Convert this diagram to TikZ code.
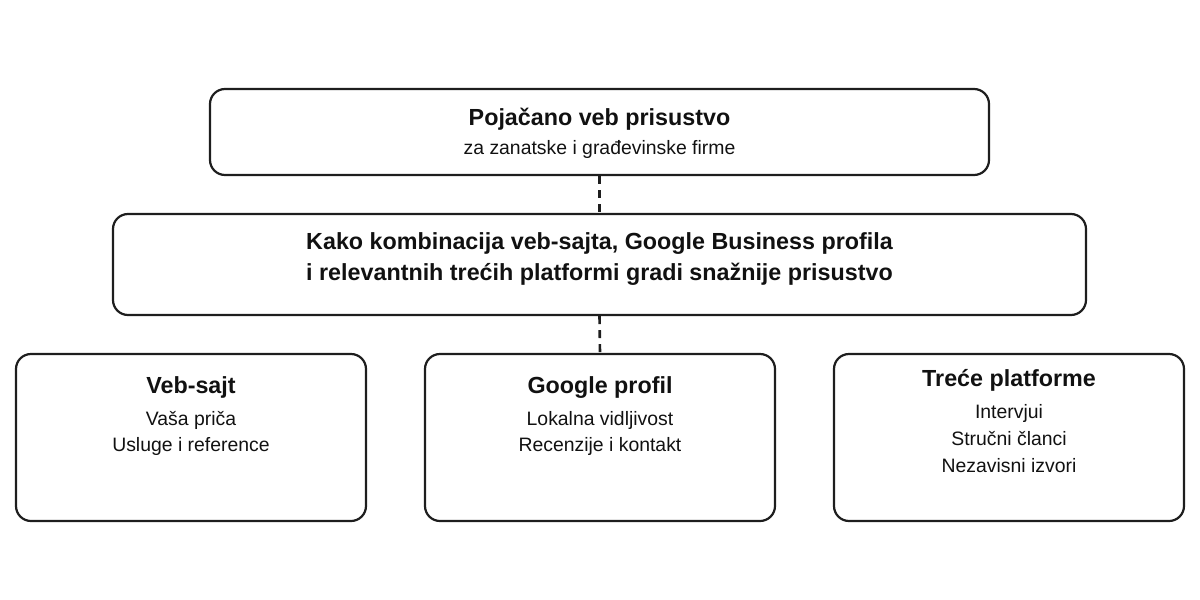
\documentclass[tikz,border=0pt]{standalone}
\usepackage{fontspec}
\setmainfont{Liberation Sans}
\usepackage{xcolor}
\usepackage{tikz}
\usetikzlibrary{positioning}

\definecolor{inkline}{HTML}{1E1E1E}
\definecolor{inktext}{HTML}{111111}

\tikzset{
    box/.style={draw=inkline, line width=2.2pt, rounded corners=15pt, inner sep=0pt},
    link/.style={draw=inkline, line width=2.6pt, dash pattern=on 8pt off 6pt},
    head/.style={font=\fontsize{23.3}{31}\selectfont\bfseries, text=inktext, align=center, inner sep=0pt},
    body/.style={font=\fontsize{19.4}{27}\selectfont, text=inktext, align=center, inner sep=0pt},
}

\begin{document}
\begin{tikzpicture}[x=1pt, y=-1pt]
    \useasboundingbox (0,0) rectangle (1200,600);

    % Top and middle boxes
    \node[box, minimum width=779pt, minimum height=86pt] (top) at (599.5,132) {};
    \node[box, minimum width=973pt, minimum height=101pt] (mid) at (599.5,264.5) {};

    \node[body, below=20pt of top.north] (top-text)
        {{\fontsize{23.3}{31}\selectfont\bfseries Pojačano veb prisustvo}\\[2pt]
         za zanatske i građevinske firme};
    \node[head, below=20pt of mid.north] (mid-text)
        {Kako kombinacija veb-sajta, Google Business profila\\
         i relevantnih trećih platformi gradi snažnije prisustvo};

    % Three pillars
    \node[box, minimum width=350pt, minimum height=167pt] (web) at (191,437.5) {};
    \node[box, minimum width=350pt, minimum height=167pt] (google) at (600,437.5) {};
    \node[box, minimum width=350pt, minimum height=167pt] (third) at (1009,437.5) {};

    \node[body, below=24pt of web.north] (web-text)
        {{\fontsize{23.3}{31}\selectfont\bfseries Veb-sajt}\\[5pt]
         Vaša priča\\[-1pt] Usluge i reference};
    \node[body, below=24pt of google.north] (google-text)
        {{\fontsize{23.3}{31}\selectfont\bfseries Google profil}\\[5pt]
         Lokalna vidljivost\\[-1pt] Recenzije i kontakt};
    \node[body, below=16pt of third.north] (third-text)
        {{\fontsize{23.3}{31}\selectfont\bfseries Treće platforme}\\[5pt]
         Intervjui\\ Stručni članci\\ Nezavisni izvori};

    % Dashed connectors
    \draw[link] (top.south) -- (mid.north);
    \draw[link] (mid.south) -- (google.north);
\end{tikzpicture}
\end{document}
